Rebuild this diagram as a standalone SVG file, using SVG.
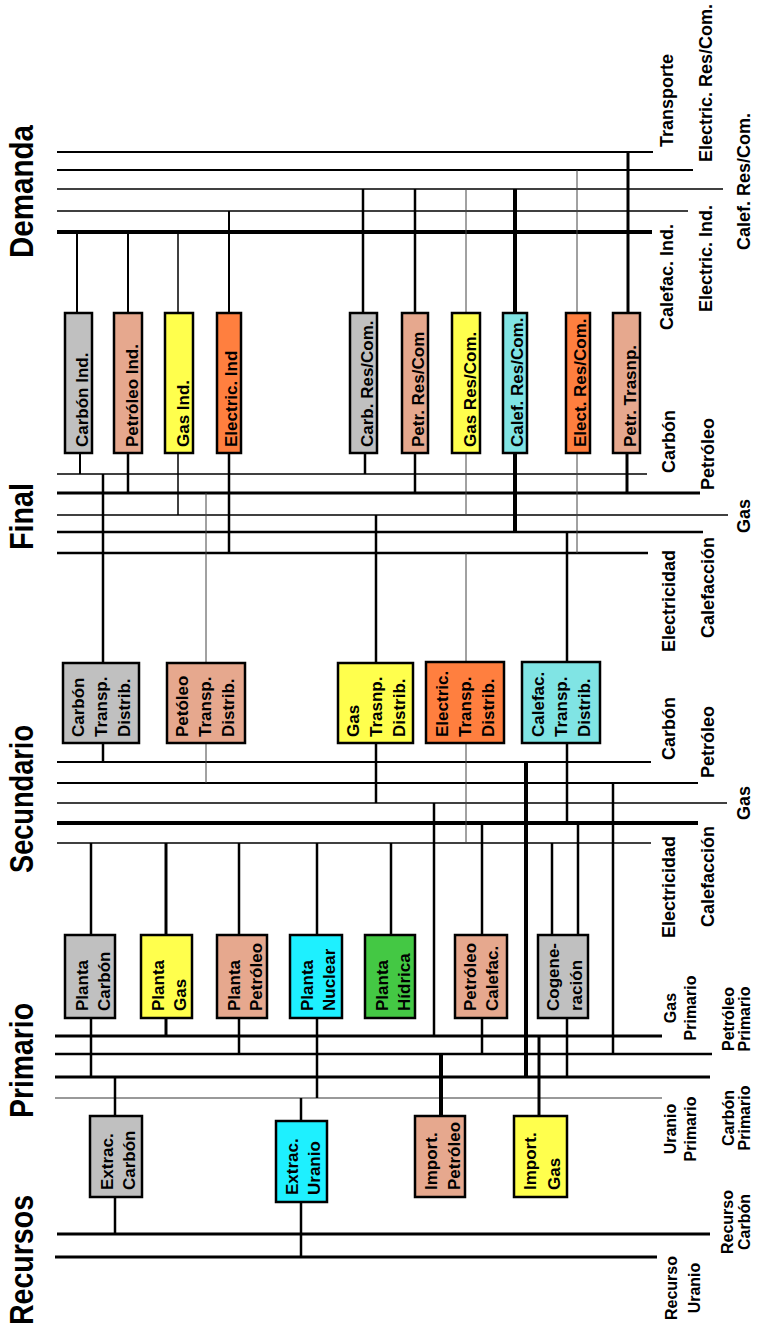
<svg xmlns="http://www.w3.org/2000/svg" width="759" height="1329" viewBox="0 0 759 1329">
<style>
.bg{fill:#fff}
.bx{stroke:#000;stroke-width:2.5}
.gr{fill:#c0c0c0}.sa{fill:#e6a88e}.ye{fill:#ffff4d}.or{fill:#ff7f3f}.cy{fill:#80e4e4}.cb{fill:#1ef0ff}.gn{fill:#44c844}
text{font-family:"Liberation Sans",Arial,Helvetica,sans-serif;font-weight:bold;fill:#000}
.t{font-size:17px}
.s{font-size:18px}
.p{font-size:16px}
.h{font-size:33px}
line{stroke:#000}
.w1{stroke-width:1;stroke:#444}
.w15{stroke-width:1.5}
.w2{stroke-width:2}
.w25{stroke-width:2.5}
.w3{stroke-width:3}
.w4{stroke-width:4}
.g{stroke:#777;stroke-width:1.5}
</style>
<rect class="bg" x="0" y="0" width="759" height="1329"/>

<g id="connectors">
  <!-- Demand buses -->
  <line class="w2" x1="57" y1="152" x2="653" y2="152"/>
  <line class="w2" x1="57" y1="170" x2="693" y2="170"/>
  <line class="w15" x1="57" y1="189" x2="723" y2="189"/>
  <line class="w15" x1="57" y1="211" x2="688" y2="211"/>
  <line class="w4" x1="57" y1="232" x2="652" y2="232"/>
  <!-- Final buses -->
  <line class="w15" x1="57" y1="474" x2="647" y2="474"/>
  <line class="w3" x1="57" y1="493" x2="700" y2="493"/>
  <line class="w15" x1="57" y1="515" x2="728" y2="515"/>
  <line class="w25" x1="57" y1="532" x2="703" y2="532"/>
  <line class="w25" x1="57" y1="553" x2="648" y2="553"/>
  <!-- Secondary buses -->
  <line class="w2" x1="57" y1="762" x2="651" y2="762"/>
  <line class="w2" x1="57" y1="783" x2="698" y2="783"/>
  <line class="w15" x1="57" y1="803" x2="727" y2="803"/>
  <line class="w4" x1="57" y1="823" x2="698" y2="823"/>
  <line class="w15" x1="57" y1="843" x2="651" y2="843"/>
  <!-- Primary buses -->
  <line class="w3" x1="55" y1="1036" x2="662" y2="1036"/>
  <line class="w25" x1="55" y1="1054" x2="712" y2="1054"/>
  <line class="w3" x1="55" y1="1077" x2="710" y2="1077"/>
  <line class="g" x1="55" y1="1098" x2="662" y2="1098"/>
  <!-- Resource buses -->
  <line class="w3" x1="57" y1="1234" x2="710" y2="1234"/>
  <line class="w3" x1="55" y1="1257" x2="657" y2="1257"/>

  <!-- Demand node links up -->
  <line class="w2" x1="77" y1="232" x2="77" y2="313"/>
  <line class="w2" x1="128" y1="232" x2="128" y2="313"/>
  <line class="w15" x1="178" y1="232" x2="178" y2="313"/>
  <line class="w2" x1="229" y1="211" x2="229" y2="313"/>
  <line class="w25" x1="363" y1="189" x2="363" y2="313"/>
  <line class="w25" x1="415" y1="189" x2="415" y2="313"/>
  <line class="w1" x1="466" y1="189" x2="466" y2="313"/>
  <line class="w4" x1="515" y1="189" x2="515" y2="313"/>
  <line class="w1" x1="577" y1="170" x2="577" y2="313"/>
  <line class="w3" x1="628" y1="152" x2="628" y2="313"/>
  <!-- Demand node links down -->
  <line class="w2" x1="80" y1="453" x2="80" y2="474"/>
  <line class="w25" x1="128" y1="453" x2="128" y2="493"/>
  <line class="w15" x1="178" y1="453" x2="178" y2="515"/>
  <line class="w25" x1="229" y1="453" x2="229" y2="553"/>
  <line class="w25" x1="365" y1="453" x2="365" y2="474"/>
  <line class="w25" x1="415" y1="453" x2="415" y2="493"/>
  <line class="w1" x1="466" y1="453" x2="466" y2="515"/>
  <line class="w4" x1="515" y1="453" x2="515" y2="532"/>
  <line class="w1" x1="577" y1="453" x2="577" y2="553"/>
  <line class="w3" x1="627" y1="453" x2="627" y2="493"/>

  <!-- Final to secondary nodes -->
  <line class="w25" x1="103" y1="474" x2="103" y2="663"/>
  <line class="w1" x1="206" y1="493" x2="206" y2="663"/>
  <line class="w25" x1="376" y1="515" x2="376" y2="663"/>
  <line class="w1" x1="466" y1="553" x2="466" y2="662"/>
  <line class="w25" x1="567" y1="532" x2="567" y2="662"/>
  <!-- Secondary nodes to secondary buses -->
  <line class="w25" x1="103" y1="743" x2="103" y2="762"/>
  <line class="w1" x1="206" y1="743" x2="206" y2="783"/>
  <line class="w25" x1="376" y1="743" x2="376" y2="803"/>
  <line class="w1" x1="466" y1="743" x2="466" y2="843"/>
  <line class="w25" x1="567" y1="743" x2="567" y2="823"/>
  <!-- Pass-through primary to secondary -->
  <line class="w25" x1="434" y1="803" x2="434" y2="1036"/>
  <line class="w4" x1="526" y1="762" x2="526" y2="1077"/>
  <line class="w25" x1="613" y1="783" x2="613" y2="1054"/>

  <!-- Plants up -->
  <line class="w25" x1="91" y1="843" x2="91" y2="935"/>
  <line class="w3" x1="166" y1="843" x2="166" y2="935"/>
  <line class="w25" x1="239" y1="843" x2="239" y2="935"/>
  <line class="w25" x1="317" y1="843" x2="317" y2="935"/>
  <line class="w25" x1="391" y1="843" x2="391" y2="935"/>
  <line class="w25" x1="482" y1="823" x2="482" y2="935"/>
  <line class="w25" x1="552" y1="843" x2="552" y2="935"/>
  <line class="w25" x1="578" y1="823" x2="578" y2="935"/>
  <!-- Plants down -->
  <line class="w25" x1="91" y1="1018" x2="91" y2="1077"/>
  <line class="w3" x1="166" y1="1018" x2="166" y2="1036"/>
  <line class="w25" x1="239" y1="1018" x2="239" y2="1054"/>
  <line class="w25" x1="317" y1="1018" x2="317" y2="1098"/>
  <line class="w25" x1="482" y1="1018" x2="482" y2="1054"/>
  <line class="w25" x1="567" y1="1018" x2="567" y2="1077"/>

  <!-- Resource nodes -->
  <line class="w25" x1="115" y1="1077" x2="115" y2="1116"/>
  <line class="w25" x1="115" y1="1197" x2="115" y2="1234"/>
  <line class="w25" x1="301" y1="1098" x2="301" y2="1121"/>
  <line class="w25" x1="301" y1="1202" x2="301" y2="1257"/>
  <line class="w4" x1="441" y1="1054" x2="441" y2="1116"/>
  <line class="w3" x1="539" y1="1036" x2="539" y2="1116"/>
</g>

<!-- Titles -->
<g id="titles">
  <text class="h" transform="translate(33,258) rotate(-90)" textLength="133" lengthAdjust="spacingAndGlyphs">Demanda</text>
  <text class="h" transform="translate(33,550) rotate(-90)" textLength="67" lengthAdjust="spacingAndGlyphs">Final</text>
  <text class="h" transform="translate(33,873) rotate(-90)" textLength="148" lengthAdjust="spacingAndGlyphs">Secundario</text>
  <text class="h" transform="translate(33,1118) rotate(-90)" textLength="115" lengthAdjust="spacingAndGlyphs">Primario</text>
  <text class="h" transform="translate(33,1325) rotate(-90)" textLength="130" lengthAdjust="spacingAndGlyphs">Recursos</text>
</g>

<!-- Bus labels -->
<g id="labels">
  <text class="s" transform="translate(673,147) rotate(-90)">Transporte</text>
  <text class="s" transform="translate(712,162) rotate(-90)">Electric. Res/Com.</text>
  <text class="s" transform="translate(750,250) rotate(-90)">Calef. Res/Com.</text>
  <text class="s" transform="translate(712,312) rotate(-90)">Electric. Ind.</text>
  <text class="s" transform="translate(673,330) rotate(-90)">Calefac. Ind.</text>

  <text class="s" transform="translate(675,473) rotate(-90)">Carbón</text>
  <text class="s" transform="translate(714,490) rotate(-90)">Petróleo</text>
  <text class="s" transform="translate(750,533) rotate(-90)">Gas</text>
  <text class="s" transform="translate(675,652) rotate(-90)">Electricidad</text>
  <text class="s" transform="translate(714,638) rotate(-90)">Calefacción</text>

  <text class="s" transform="translate(675,760) rotate(-90)">Carbón</text>
  <text class="s" transform="translate(714,778) rotate(-90)">Petróleo</text>
  <text class="s" transform="translate(750,820) rotate(-90)">Gas</text>
  <text class="s" transform="translate(675,938) rotate(-90)">Electricidad</text>
  <text class="s" transform="translate(714,927) rotate(-90)">Calefacción</text>

  <text class="p" text-anchor="middle" transform="translate(676,1008) rotate(-90)"><tspan x="0">Gas</tspan><tspan x="0" dy="20">Primario</tspan></text>
  <text class="p" text-anchor="middle" transform="translate(734,1019) rotate(-90)"><tspan x="0">Petróleo</tspan><tspan x="0" dy="16">Primario</tspan></text>
  <text class="p" text-anchor="middle" transform="translate(734,1118) rotate(-90)"><tspan x="0">Carbón</tspan><tspan x="0" dy="16">Primario</tspan></text>
  <text class="p" text-anchor="middle" transform="translate(676,1129) rotate(-90)"><tspan x="0">Uranio</tspan><tspan x="0" dy="20">Primario</tspan></text>
  <text class="p" text-anchor="middle" transform="translate(733,1222) rotate(-90)"><tspan x="0">Recurso</tspan><tspan x="0" dy="17">Carbón</tspan></text>
  <text class="p" text-anchor="middle" transform="translate(677,1288) rotate(-90)"><tspan x="0">Recurso</tspan><tspan x="0" dy="23">Uranio</tspan></text>
</g>

<!-- Demand nodes -->
<g id="carbon-ind"><rect class="bx gr" x="65" y="313" width="27" height="140"/><text class="t" transform="translate(88,447) rotate(-90)">Carbón Ind.</text></g>
<g id="petroleo-ind"><rect class="bx sa" x="114" y="313" width="28" height="140"/><text class="t" transform="translate(138,447) rotate(-90)">Petróleo Ind.</text></g>
<g id="gas-ind"><rect class="bx ye" x="165" y="313" width="28" height="140"/><text class="t" transform="translate(189,447) rotate(-90)">Gas Ind.</text></g>
<g id="electric-ind"><rect class="bx or" x="217" y="313" width="24" height="140"/><text class="t" transform="translate(237,447) rotate(-90)">Electric. Ind</text></g>
<g id="carb-rescom"><rect class="bx gr" x="350" y="313" width="27" height="140"/><text class="t" transform="translate(373,447) rotate(-90)">Carb. Res/Com.</text></g>
<g id="petr-rescom"><rect class="bx sa" x="402" y="313" width="26" height="140"/><text class="t" transform="translate(424,447) rotate(-90)">Petr. Res/Com</text></g>
<g id="gas-rescom"><rect class="bx ye" x="452" y="313" width="28" height="140"/><text class="t" transform="translate(476,447) rotate(-90)">Gas Res/Com.</text></g>
<g id="calef-rescom"><rect class="bx cy" x="503" y="313" width="24" height="140"/><text class="t" transform="translate(523,447) rotate(-90)">Calef. Res/Com.</text></g>
<g id="elect-rescom"><rect class="bx or" x="566" y="313" width="24" height="140"/><text class="t" transform="translate(586,447) rotate(-90)">Elect. Res/Com.</text></g>
<g id="petr-trasnp"><rect class="bx sa" x="613" y="313" width="27" height="140"/><text class="t" transform="translate(636,447) rotate(-90)">Petr. Trasnp.</text></g>

<!-- Secondary nodes -->
<g id="carbon-td"><rect class="bx gr" x="63" y="663" width="76" height="80"/><text class="t" transform="translate(84,737) rotate(-90)"><tspan x="0">Carbón</tspan><tspan x="0" dy="23">Transp.</tspan><tspan x="0" dy="23">Distrib.</tspan></text></g>
<g id="petroleo-td"><rect class="bx sa" x="167" y="663" width="78" height="80"/><text class="t" transform="translate(188,737) rotate(-90)"><tspan x="0">Petóleo</tspan><tspan x="0" dy="23">Transp.</tspan><tspan x="0" dy="23">Distrib.</tspan></text></g>
<g id="gas-td"><rect class="bx ye" x="338" y="663" width="75" height="80"/><text class="t" transform="translate(359,737) rotate(-90)"><tspan x="0">Gas</tspan><tspan x="0" dy="23">Trasnp.</tspan><tspan x="0" dy="23">Distrib.</tspan></text></g>
<g id="electric-td"><rect class="bx or" x="426" y="662" width="78" height="81"/><text class="t" transform="translate(448,737) rotate(-90)"><tspan x="0">Electric.</tspan><tspan x="0" dy="23">Transp.</tspan><tspan x="0" dy="23">Distrib.</tspan></text></g>
<g id="calefac-td"><rect class="bx cy" x="522" y="662" width="78" height="81"/><text class="t" transform="translate(544,737) rotate(-90)"><tspan x="0">Calefac.</tspan><tspan x="0" dy="23">Transp.</tspan><tspan x="0" dy="23">Distrib.</tspan></text></g>

<!-- Primary plants -->
<g id="planta-carbon"><rect class="bx gr" x="65" y="935" width="50" height="83"/><text class="t" transform="translate(88,1011) rotate(-90)"><tspan x="0">Planta</tspan><tspan x="0" dy="22">Carbón</tspan></text></g>
<g id="planta-gas"><rect class="bx ye" x="141" y="935" width="51" height="83"/><text class="t" transform="translate(164,1011) rotate(-90)"><tspan x="0">Planta</tspan><tspan x="0" dy="22">Gas</tspan></text></g>
<g id="planta-petroleo"><rect class="bx sa" x="217" y="935" width="50" height="83"/><text class="t" transform="translate(240,1011) rotate(-90)"><tspan x="0">Planta</tspan><tspan x="0" dy="22">Petróleo</tspan></text></g>
<g id="planta-nuclear"><rect class="bx cb" x="290" y="935" width="52" height="83"/><text class="t" transform="translate(313,1011) rotate(-90)"><tspan x="0">Planta</tspan><tspan x="0" dy="22">Nuclear</tspan></text></g>
<g id="planta-hidrica"><rect class="bx gn" x="365" y="935" width="50" height="83"/><text class="t" transform="translate(388,1011) rotate(-90)"><tspan x="0">Planta</tspan><tspan x="0" dy="22">Hídrica</tspan></text></g>
<g id="petroleo-calefac"><rect class="bx sa" x="455" y="935" width="52" height="83"/><text class="t" transform="translate(476,1011) rotate(-90)"><tspan x="0">Petróleo</tspan><tspan x="0" dy="22">Calefac.</tspan></text></g>
<g id="cogeneracion"><rect class="bx gr" x="538" y="935" width="50" height="83"/><text class="t" transform="translate(559,1011) rotate(-90)"><tspan x="0">Cogene-</tspan><tspan x="0" dy="23">ración</tspan></text></g>

<!-- Resource nodes -->
<g id="extrac-carbon"><rect class="bx gr" x="90" y="1116" width="52" height="81"/><text class="t" transform="translate(113,1190) rotate(-90)"><tspan x="0">Extrac.</tspan><tspan x="0" dy="22">Carbón</tspan></text></g>
<g id="extrac-uranio"><rect class="bx cb" x="276" y="1121" width="51" height="81"/><text class="t" transform="translate(298,1195) rotate(-90)"><tspan x="0">Extrac.</tspan><tspan x="0" dy="22">Uranio</tspan></text></g>
<g id="import-petroleo"><rect class="bx sa" x="415" y="1116" width="50" height="81"/><text class="t" transform="translate(437,1190) rotate(-90)"><tspan x="0">Import.</tspan><tspan x="0" dy="23">Petróleo</tspan></text></g>
<g id="import-gas"><rect class="bx ye" x="514" y="1116" width="53" height="81"/><text class="t" transform="translate(536,1190) rotate(-90)"><tspan x="0">Import.</tspan><tspan x="0" dy="24">Gas</tspan></text></g>
</svg>
